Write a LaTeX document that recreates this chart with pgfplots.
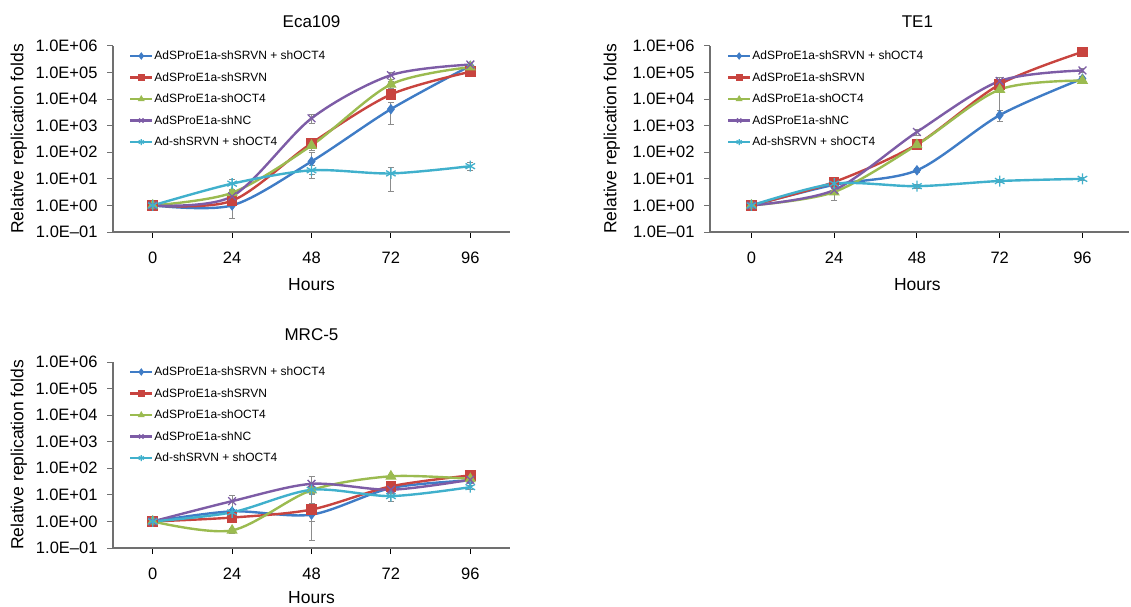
\documentclass[border=0pt]{standalone}
\usepackage{fontspec}
\setmainfont{Liberation Sans}
\usepackage{pgfplots}
\pgfplotsset{compat=1.18}

\definecolor{cBlue}{HTML}{3F7CC6}
\definecolor{cRed}{HTML}{C8443F}
\definecolor{cGreen}{HTML}{9BBB50}
\definecolor{cPurple}{HTML}{7D5CA6}
\definecolor{cCyan}{HTML}{40B0CC}
\definecolor{cAxis}{HTML}{707070}
\definecolor{cErr}{HTML}{8C8C8C}

\tikzset{
  sB/.style={cBlue, line width=2.4pt, smooth, mark=diamond*, mark size=4.5pt, mark options={fill=cBlue, solid, line width=1pt}},
  sR/.style={cRed, line width=2.4pt, smooth, mark=square*, mark size=4.8pt, mark options={fill=cRed, solid, line width=1pt}},
  sG/.style={cGreen, line width=2.4pt, smooth, mark=triangle*, mark size=5.5pt, mark options={fill=cGreen, solid, line width=1pt}},
  sP/.style={cPurple, line width=2.4pt, smooth, mark=x, mark size=5.5pt, mark options={line width=1.3pt}},
  sC/.style={cCyan, line width=2.4pt, smooth, mark=asterisk, mark size=5.5pt, mark options={line width=1.3pt}},
}

\pgfplotsset{
  yticklabels={1.0E\textendash01,1.0E+00,1.0E+01,1.0E+02,1.0E+03,1.0E+04,1.0E+05,1.0E+06},
  xticklabels={0,24,48,72,96},
  tick label style={font=\fontsize{16.5}{18}\selectfont},
  xticklabel style={yshift=-10pt},
  yticklabel style={xshift=-6pt},
  label style={font=\fontsize{17.5}{20}\selectfont},
  title style={font=\fontsize{17}{20}\selectfont},
  legend style={
    at={(0.04,0.98)}, anchor=north west, draw=none, fill=none,
    font=\fontsize{12}{13}\selectfont, inner sep=0pt,
    row sep=9.3pt, nodes={inner sep=1pt}
  },
  legend cell align=left,
  legend image code/.code={
    \draw[mark repeat=2, mark phase=2, #1, mark size=3pt]
      plot coordinates {(0pt,0pt) (11pt,0pt) (22pt,0pt)};
  },
}

\begin{document}
\begin{tikzpicture}
\useasboundingbox (0pt,0pt) rectangle (1131pt,606pt);

% Eca109
\begin{axis}[scale only axis, at={(113pt,374pt)}, anchor=south west, width=397pt, height=186pt,
  ymode=log, ymin=0.1, ymax=1e6,
  ytick={0.1,1,10,100,1000,10000,100000,1000000},
  yminorticks=false,
  xmin=-12, xmax=108, xtick={0,24,48,72,96},
  axis lines=left, axis line style={-, cAxis, line width=1.6pt},
  tick align=outside, major tick length=6pt,
  xtick style={black, line width=1pt}, ytick style={cAxis, line width=1pt},
  clip=false,
  error bars/y dir=both, error bars/y explicit,
  error bars/error bar style={cErr, line width=0.9pt},
  error bars/error mark options={rotate=90, mark size=3pt, cErr, line width=0.9pt},
  title={Eca109}, xlabel={Hours}, ylabel={Relative replication folds},
  title style={at={(axis description cs:0.5,1.13)}, anchor=center, yshift=-6pt},
  xlabel style={at={(axis description cs:0.5,-0.28)}, anchor=center},
  ylabel style={at={(axis description cs:-0.237,0.5)}, anchor=center}]
\addplot+[sB] coordinates {(0,1) +- (0,0.05) (24,1.0) += (0,0.6) -= (0,0.68) (48,45) += (0,55) -= (0,30) (72,4200) += (0,3000) -= (0,3100) (96,180000) +- (0,30000)};
\addplot+[sR] coordinates {(0,1) +- (0,0.05) (24,1.5) +- (0,0.3) (48,220) +- (0,60) (72,15000) +- (0,5000) (96,107000) +- (0,20000)};
\addplot+[sG] coordinates {(0,1) +- (0,0.05) (24,3.0) +- (0,0.8) (48,180) +- (0,60) (72,36000) +- (0,10000) (96,160000) +- (0,30000)};
\addplot+[sP] coordinates {(0,1) +- (0,0.05) (24,2.2) +- (0,0.5) (48,1900) +- (0,700) (72,80000) +- (0,25000) (96,200000) +- (0,40000)};
\addplot+[sC] coordinates {(0,1) +- (0,0.05) (24,6.6) +- (0,2.5) (48,21) +- (0,10.5) (72,16) += (0,12) -= (0,12.5) (96,30) +- (0,10)};
\legend{AdSProE1a-shSRVN + shOCT4, AdSProE1a-shSRVN, AdSProE1a-shOCT4, AdSProE1a-shNC, Ad-shSRVN + shOCT4}
\end{axis}

% TE1
\begin{axis}[scale only axis, at={(710pt,374pt)}, anchor=south west, width=419pt, height=186pt,
  ymode=log, ymin=0.1, ymax=1e6,
  ytick={0.1,1,10,100,1000,10000,100000,1000000},
  yminorticks=false,
  xmin=-12, xmax=109.5, xtick={0,24,48,72,96},
  axis lines=left, axis line style={-, cAxis, line width=1.6pt},
  tick align=outside, major tick length=6pt,
  xtick style={black, line width=1pt}, ytick style={cAxis, line width=1pt},
  clip=false,
  error bars/y dir=both, error bars/y explicit,
  error bars/error bar style={cErr, line width=0.9pt},
  error bars/error mark options={rotate=90, mark size=3pt, cErr, line width=0.9pt},
  title={TE1}, xlabel={Hours}, ylabel={Relative replication folds},
  title style={at={(axis description cs:0.495,1.13)}, anchor=center, yshift=-6pt},
  xlabel style={at={(axis description cs:0.495,-0.28)}, anchor=center},
  ylabel style={at={(axis description cs:-0.234,0.5)}, anchor=center}]
\addplot+[sB] coordinates {(0,1) +- (0,0.05) (24,6.0) +- (0,1.5) (48,21) +- (0,4) (72,2500) += (0,1300) -= (0,1100) (96,59000) +- (0,10000)};
\addplot+[sR] coordinates {(0,1) +- (0,0.05) (24,7.6) +- (0,1.5) (48,200) +- (0,40) (72,36000) +- (0,10000) (96,600000) +- (0,150000)};
\addplot+[sG] coordinates {(0,1) +- (0,0.05) (24,3.2) += (0,2) -= (0,1.7) (48,190) +- (0,40) (72,23000) += (0,30000) -= (0,20000) (96,50000) +- (0,10000)};
\addplot+[sP] coordinates {(0,1) +- (0,0.05) (24,3.8) +- (0,1) (48,580) +- (0,150) (72,48000) +- (0,15000) (96,120000) +- (0,20000)};
\addplot+[sC] coordinates {(0,1) +- (0,0.05) (24,6.6) +- (0,1) (48,5.3) +- (0,1) (72,8.3) +- (0,1) (96,10) +- (0,1.5)};
\legend{AdSProE1a-shSRVN + shOCT4, AdSProE1a-shSRVN, AdSProE1a-shOCT4, AdSProE1a-shNC, Ad-shSRVN + shOCT4}
\end{axis}

% MRC-5
\begin{axis}[scale only axis, at={(113pt,58pt)}, anchor=south west, width=397pt, height=186pt,
  ymode=log, ymin=0.1, ymax=1e6,
  ytick={0.1,1,10,100,1000,10000,100000,1000000},
  yminorticks=false,
  xmin=-12, xmax=108, xtick={0,24,48,72,96},
  axis lines=left, axis line style={-, cAxis, line width=1.6pt},
  tick align=outside, major tick length=6pt,
  xtick style={black, line width=1pt}, ytick style={cAxis, line width=1pt},
  clip=false,
  error bars/y dir=both, error bars/y explicit,
  error bars/error bar style={cErr, line width=0.9pt},
  error bars/error mark options={rotate=90, mark size=3pt, cErr, line width=0.9pt},
  title={MRC-5}, xlabel={Hours}, ylabel={Relative replication folds},
  title style={at={(axis description cs:0.5,1.145)}, anchor=center, yshift=-6pt},
  xlabel style={at={(axis description cs:0.5,-0.265)}, anchor=center},
  ylabel style={at={(axis description cs:-0.237,0.5)}, anchor=center}]
\addplot+[sB] coordinates {(0,1) +- (0,0.05) (24,2.4) +- (0,0.5) (48,1.8) += (0,3) -= (0,1.6) (72,18) +- (0,5) (96,35) +- (0,8)};
\addplot+[sR] coordinates {(0,1) +- (0,0.05) (24,1.4) +- (0,0.3) (48,2.8) +- (0,0.8) (72,21) +- (0,6) (96,54) +- (0,8)};
\addplot+[sG] coordinates {(0,1) +- (0,0.05) (24,0.46) +- (0,0.1) (48,15) +- (0,5) (72,50) +- (0,8) (96,40) +- (0,6)};
\addplot+[sP] coordinates {(0,1) +- (0,0.05) (24,5.8) +- (0,3.8) (48,26) +- (0,25) (72,15.6) +- (0,4) (96,37) +- (0,6)};
\addplot+[sC] coordinates {(0,1) +- (0,0.05) (24,2.2) +- (0,0.4) (48,15.5) +- (0,4) (72,9) +- (0,3.5) (96,19.5) +- (0,3)};
\legend{AdSProE1a-shSRVN + shOCT4, AdSProE1a-shSRVN, AdSProE1a-shOCT4, AdSProE1a-shNC, Ad-shSRVN + shOCT4}
\end{axis}
\end{tikzpicture}
\end{document}
